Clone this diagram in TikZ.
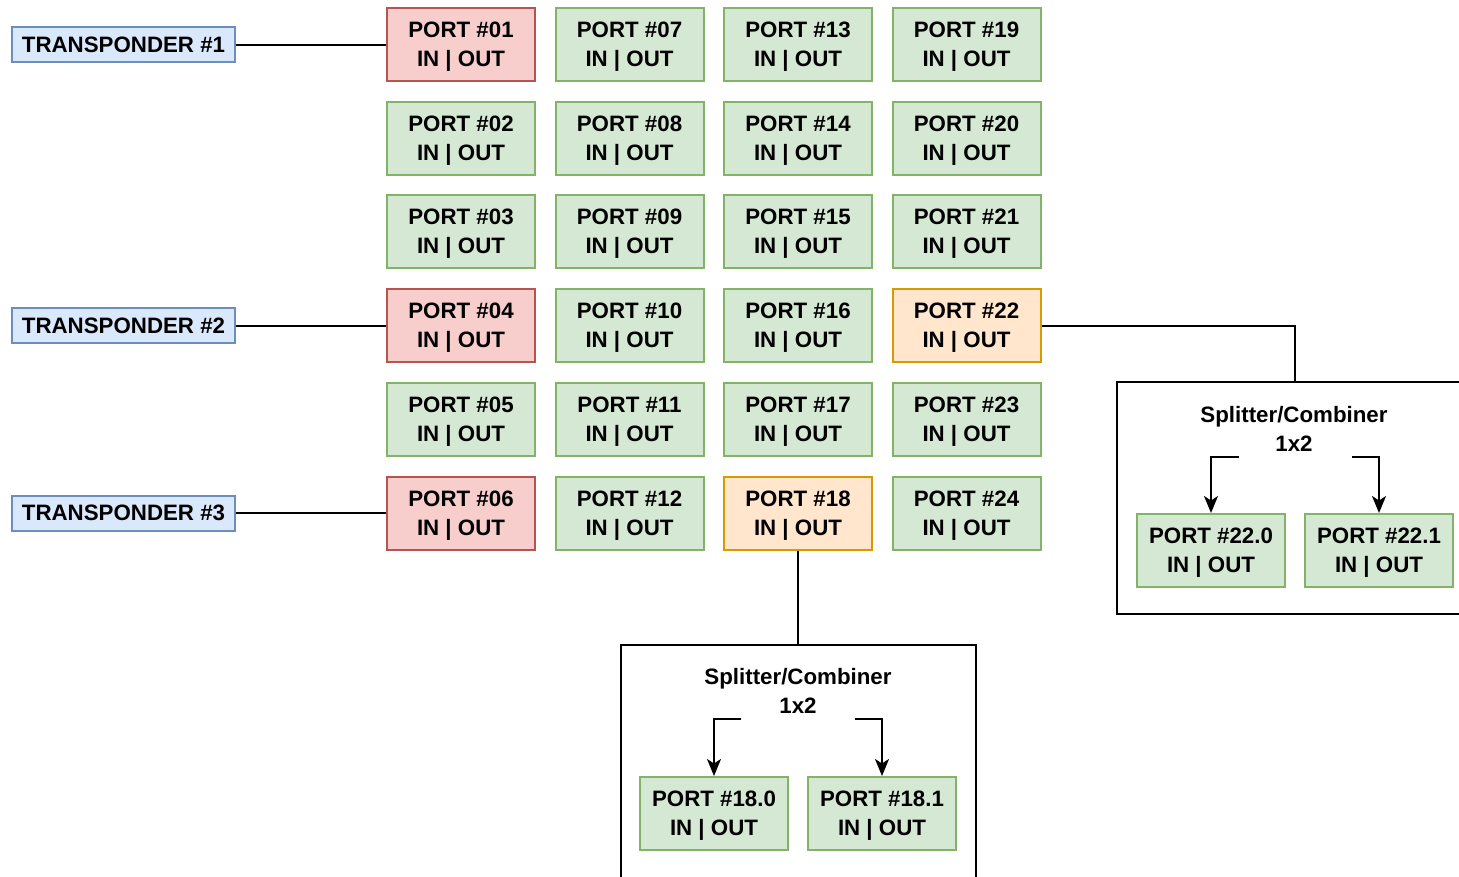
\documentclass[tikz,border=0pt]{standalone}
\usepackage{fontspec}
\setmainfont{Liberation Sans}
\usetikzlibrary{arrows.meta}
\definecolor{gfill}{HTML}{D5E8D4}\definecolor{gline}{HTML}{82B366}
\definecolor{rfill}{HTML}{F8CECC}\definecolor{rline}{HTML}{B85450}
\definecolor{ofill}{HTML}{FFE6CC}\definecolor{oline}{HTML}{D79B00}
\definecolor{bfill}{HTML}{DAE8FC}\definecolor{bline}{HTML}{6C8EBF}
\tikzset{
  txt/.style={font=\fontsize{22.3}{29}\selectfont\bfseries, align=center, inner sep=0pt},
  port/.style={txt, text depth=0pt, draw=gline, fill=gfill, line width=2pt, minimum width=148pt, minimum height=73pt},
  redport/.style={port, draw=rline, fill=rfill},
  orport/.style={port, draw=oline, fill=ofill},
  trans/.style={txt, draw=bline, fill=bfill, line width=2pt, minimum width=223pt, minimum height=35pt},
  splitbox/.style={draw=black, line width=2pt, fill=white, inner sep=0pt},
  conn/.style={draw=black, line width=2pt},
  arr/.style={conn, -{Stealth[length=17pt,width=14pt,inset=4.5pt]}}
}
\begin{document}
\begin{tikzpicture}[x=1pt,y=-1pt]
\clip (0,0) rectangle (1459,876);
\fill[white] (0,0) rectangle (1459,876);
% port grid
\foreach \c/\cx in {0/461,1/629.5,2/798,3/966.5}{
  \foreach \r/\cy in {0/44.5,1/138.5,2/231.5,3/325.5,4/419.5,5/513.5}{
    \pgfmathtruncatemacro{\n}{\c*6+\r+1}
    \edef\num{\ifnum\n<10 0\fi\n}
    \def\sty{port}
    \ifnum\n=1 \def\sty{redport}\fi
    \ifnum\n=4 \def\sty{redport}\fi
    \ifnum\n=6 \def\sty{redport}\fi
    \ifnum\n=18 \def\sty{orport}\fi
    \ifnum\n=22 \def\sty{orport}\fi
    \node[\sty] (p\num) at (\cx,\cy) {PORT \#\num\\IN | OUT};
  }
}
% transponders
\node[trans] (t1) at (123.5,44.5) {TRANSPONDER \#1};
\node[trans] (t2) at (123.5,325.5) {TRANSPONDER \#2};
\node[trans] (t3) at (123.5,513) {TRANSPONDER \#3};
\draw[conn] (t1.east) -- (p01.west);
\draw[conn] (t2.east) -- (p04.west);
\draw[conn] (t3.east) -- (p06.west |- t3.east);
% splitter for port 22
\node[splitbox, minimum width=356pt, minimum height=232pt] (s22) at (1295,498) {};
\draw[conn] (p22.east) -| (s22.north);
\node[txt] (s22t) at (1294,428.5) {Splitter/Combiner\\1x2};
\node[port] (p220) at (1211,550.5) {PORT \#22.0\\IN | OUT};
\node[port] (p221) at (1379,550.5) {PORT \#22.1\\IN | OUT};
\coordinate (s22l) at (1239,457);
\coordinate (s22r) at (1352,457);
\draw[arr] (s22l) -| (p220.north);
\draw[arr] (s22r) -| (p221.north);
% splitter for port 18
\node[splitbox, minimum width=355pt, minimum height=260pt] (s18) at (798,775) {};
\draw[conn] (p18.south) -- (s18.north);
\node[txt] (s18t) at (798,691) {Splitter/Combiner\\1x2};
\node[port] (p180) at (714,813.5) {PORT \#18.0\\IN | OUT};
\node[port] (p181) at (882,813.5) {PORT \#18.1\\IN | OUT};
\coordinate (s18l) at (741,719);
\coordinate (s18r) at (855,719);
\draw[arr] (s18l) -| (p180.north);
\draw[arr] (s18r) -| (p181.north);
\end{tikzpicture}
\end{document}
